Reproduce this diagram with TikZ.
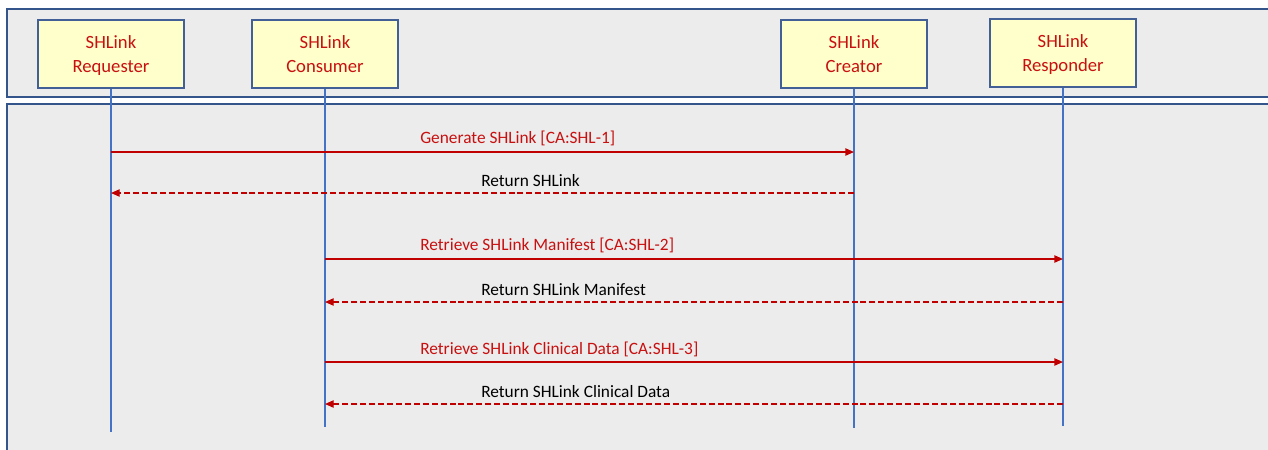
\documentclass[tikz,border=0pt]{standalone}
\usepackage{fontspec}
\setmainfont{Carlito}
\usepackage{tikz}
\usetikzlibrary{positioning, arrows.meta}
\usepackage{xcolor}
\definecolor{panelblue}{RGB}{52,84,140}
\definecolor{boxblue}{RGB}{66,96,150}
\definecolor{lifeblue}{RGB}{68,114,196}
\definecolor{boxyellow}{RGB}{255,255,204}
\definecolor{shlred}{RGB}{200,16,16}
\definecolor{arrowred}{RGB}{192,0,0}
\definecolor{panelgray}{RGB}{236,236,236}

\begin{document}
\begin{tikzpicture}[
      x=0.75pt, y=-0.75pt,
      >={Triangle[length=6.5pt, width=5.5pt]},
      actor/.style={
        rectangle, draw=boxblue, line width=1.8pt, fill=boxyellow,
        text=shlred, align=center, inner sep=0pt, text depth=0pt,
        minimum width=109.5pt, minimum height=51pt,
        font=\fontsize{14}{18}\selectfont,
      },
      panel/.style={
        draw=panelblue, line width=1.5pt, fill=panelgray,
      },
      life/.style={draw=lifeblue, line width=1.5pt},
      msg/.style={draw=arrowred, line width=1pt, ->},
      reply/.style={msg, dash pattern=on 4.5pt off 2.2pt},
      calltext/.style={anchor=west, inner sep=0pt, text=shlred,
        font=\fontsize{13}{15}\selectfont},
      replytext/.style={calltext, text=black},
    ]
      \clip (0,0) rectangle (1268,450);

      % panels
      \draw[panel] (7,9) rectangle (1290,97);
      \draw[panel] (7,104) rectangle (1290,470);

      % actors
      \node[actor] (req) at (111,54) {SHLink\\Requester};
      \node[actor] (con) at (325,54) {SHLink\\Consumer};
      \node[actor] (cre) at (854,54) {SHLink\\Creator};
      \node[actor] (res) at (1063,53) {SHLink\\Responder};

      % lifelines
      \coordinate (reqend) at (111,432);
      \coordinate (conend) at (325,427);
      \coordinate (creend) at (855,428);
      \coordinate (resend) at (1063,426);
      \draw[life] (req.south) -- (req.south |- reqend);
      \draw[life] (con.south) -- (con.south |- conend);
      \draw[life] (cre.south) -- (cre.south |- creend);
      \draw[life] (res.south) -- (res.south |- resend);

      % message rows
      \coordinate (m1) at (0,152);
      \coordinate (m2) at (0,193);
      \coordinate (m3) at (0,259);
      \coordinate (m4) at (0,302);
      \coordinate (m5) at (0,362);
      \coordinate (m6) at (0,404);

      % messages
      \draw[msg] (req |- m1) -- (cre |- m1);
      \draw[reply] (cre |- m2) -- (req |- m2);
      \draw[msg] (con |- m3) -- (res |- m3);
      \draw[reply] (res |- m4) -- (con |- m4);
      \draw[msg] (con |- m5) -- (res |- m5);
      \draw[reply] (res |- m6) -- (con |- m6);

      % labels
      \node[calltext] (t1) at (420,138) {Generate SHLink [CA:SHL-1]};
      \node[replytext] (t2) at (481,181) {Return SHLink};
      \node[calltext] (t3) at (420,245) {Retrieve SHLink Manifest [CA:SHL-2]};
      \node[replytext] (t4) at (481,290) {Return SHLink Manifest};
      \node[calltext] (t5) at (420,349) {Retrieve SHLink Clinical Data [CA:SHL-3]};
      \node[replytext] (t6) at (481,392) {Return SHLink Clinical Data};
    \end{tikzpicture}
\end{document}
